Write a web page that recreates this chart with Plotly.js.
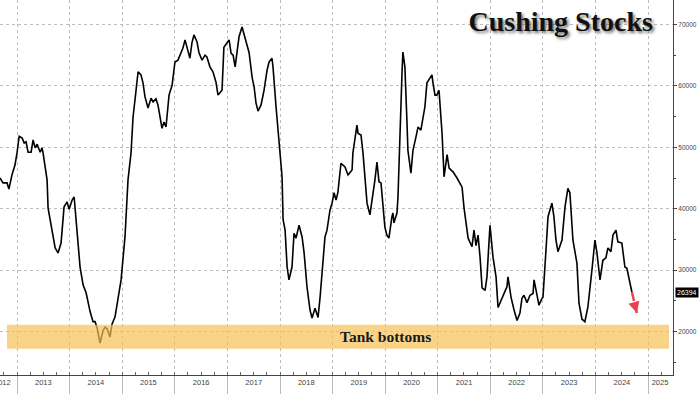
<!DOCTYPE html>
<html>
<head>
<meta charset="utf-8">
<script src="https://cdn.plot.ly/plotly-3.0.1.min.js"></script>
<style>html,body{margin:0;padding:0;background:#fff;}#chart{width:700px;height:394px;}</style>
</head>
<body>
<div id="chart"></div>
<script>
// Weekly Cushing crude stocks (thousand barrels)
const dates = [
"2012-09-04","2012-09-25","2012-10-23","2012-11-05","2012-11-26","2012-12-17",
"2013-01-01","2013-01-15","2013-02-05","2013-02-19","2013-03-04","2013-03-18","2013-04-08","2013-04-22","2013-05-06","2013-05-20","2013-06-10","2013-06-23","2013-06-30","2013-07-28","2013-08-04","2013-09-01","2013-09-22","2013-10-12","2013-11-02","2013-11-23","2013-12-14","2013-12-28",
"2014-01-18","2014-02-01","2014-02-14","2014-03-14","2014-04-04","2014-04-25","2014-05-23","2014-06-12","2014-06-26","2014-07-10","2014-07-31","2014-08-21","2014-09-04","2014-09-18","2014-10-08","2014-10-22","2014-11-12","2014-11-26","2014-12-24",
"2015-01-20","2015-02-10","2015-03-03","2015-03-17","2015-04-07","2015-04-21","2015-05-11","2015-05-25","2015-06-08","2015-06-29","2015-07-20","2015-08-03","2015-08-23","2015-09-06","2015-10-04","2015-10-18","2015-11-01","2015-11-22","2015-12-13",
"2016-01-02","2016-01-23","2016-02-06","2016-02-27","2016-03-12","2016-03-26","2016-04-15","2016-04-29","2016-05-13","2016-06-03","2016-06-17","2016-07-08","2016-07-29","2016-08-11","2016-09-01","2016-09-22","2016-10-13","2016-10-27","2016-11-10","2016-11-24","2016-12-07","2016-12-30",
"2017-01-12","2017-01-26","2017-02-09","2017-02-23","2017-03-09","2017-03-22","2017-04-12","2017-04-26","2017-05-17","2017-05-31","2017-06-21","2017-07-05","2017-07-18","2017-08-01","2017-08-22","2017-09-12","2017-10-03","2017-10-17","2017-11-06","2017-11-13","2017-12-04","2017-12-18",
"2018-01-01","2018-01-15","2018-01-22","2018-02-05","2018-02-19","2018-03-04","2018-03-25","2018-04-08","2018-04-22","2018-05-13","2018-06-03","2018-06-17","2018-07-07","2018-07-28","2018-08-11","2018-09-01","2018-09-22","2018-10-06","2018-11-09","2018-11-23","2018-12-14","2018-12-28",
"2019-01-11","2019-01-25","2019-02-07","2019-02-28","2019-03-14","2019-03-28","2019-04-18","2019-05-16","2019-05-22","2019-06-19","2019-06-26","2019-07-17","2019-07-31","2019-08-28","2019-09-17","2019-10-01","2019-10-22","2019-11-05","2019-11-19","2019-12-03","2019-12-17","2019-12-30",
"2020-01-13","2020-01-27","2020-02-17","2020-02-24","2020-03-02","2020-03-23","2020-03-30","2020-04-13","2020-04-27","2020-05-03","2020-05-17","2020-05-31","2020-06-07","2020-06-28","2020-07-12","2020-08-02","2020-08-16","2020-09-05","2020-09-19","2020-10-03","2020-10-17","2020-10-31","2020-11-21","2020-11-28","2020-12-12","2020-12-25",
"2021-01-09","2021-01-30","2021-02-13","2021-03-06","2021-03-20","2021-04-16","2021-05-14","2021-06-18","2021-07-02","2021-07-30","2021-08-26","2021-09-09","2021-09-23","2021-10-07","2021-10-21","2021-11-04","2021-11-25","2021-12-08","2021-12-29",
"2022-01-19","2022-02-09","2022-02-23","2022-03-22","2022-04-05","2022-04-26","2022-05-03","2022-05-24","2022-06-14","2022-07-05","2022-07-25","2022-08-08","2022-08-22","2022-09-12","2022-10-03","2022-10-24","2022-10-31","2022-11-20","2022-12-04","2022-12-25",
"2023-01-01","2023-01-22","2023-02-05","2023-03-04","2023-03-18","2023-04-01","2023-04-15","2023-05-13","2023-06-03","2023-06-23","2023-07-07","2023-07-28","2023-08-25","2023-09-08","2023-09-29","2023-10-19","2023-11-09","2023-12-07","2023-12-28",
"2024-01-11","2024-02-01","2024-02-21","2024-03-13","2024-03-27","2024-04-17","2024-05-01","2024-05-22","2024-06-04","2024-07-02","2024-07-23","2024-08-06","2024-08-27","2024-09-10"
];
const stocks = [
45000,44200,44200,43200,45500,47100,
49200,51800,51500,50700,50900,49200,49200,51200,49900,50500,49200,49900,49100,44700,40100,36500,33600,32800,34400,40300,41100,39900,
41400,41900,38200,30500,27600,26300,23200,21600,21600,20600,18100,20200,20700,20400,19100,21200,22400,24600,28400,
35400,44700,49100,54900,59300,62300,61800,60500,58200,56400,58000,57400,57900,56900,53100,54100,53300,58500,60100,
63900,64200,65000,66200,67500,66200,64500,67000,68300,67200,65400,64200,65000,64700,63100,62300,60600,58500,59000,59300,66300,67000,
67500,65300,65000,63100,65400,68000,69600,68300,66300,65400,61400,59800,57200,55900,56900,59300,62600,63900,64500,63100,56600,52300,
49100,45200,38200,36500,30500,28400,30500,36000,35200,37300,35400,32800,27300,23500,22200,23800,22300,25600,35400,36500,39800,40900,
42600,41400,42700,47400,47100,46800,45500,46300,49100,53600,52300,52000,49100,40900,39000,41100,44700,47600,44400,44200,40600,37000,
35700,35200,38700,39300,37700,39300,41900,53900,62100,65500,63100,54400,49500,45800,49500,51700,53300,52800,54400,56600,60500,61000,61800,60500,58500,58500,
59300,52300,45200,48800,46600,46000,45000,43500,40100,35200,33800,36500,34000,35700,32100,27100,26700,28900,37300,
32100,28900,23900,25400,26200,27300,28900,25600,23500,21800,23000,25400,25900,24700,25900,26200,28400,25900,24300,25400,
25600,33300,38700,40900,38700,34900,33000,34900,40300,43300,42600,34900,31100,24600,22000,21600,24000,30000,34900,
32800,28400,31600,32000,33600,33000,35700,36500,34600,34400,30500,30300,27900,26394
];
const yearLabels = ["2012","2013","2014","2015","2016","2017","2018","2019","2020","2021","2022","2023","2024","2025"];
const yearLabelDates = ["2012-09-20","2013-07-02","2014-07-02","2015-07-02","2016-07-02","2017-07-02","2018-07-02","2019-07-02","2020-07-02","2021-07-02","2022-07-02","2023-07-02","2024-07-02","2025-03-24"];
const yearBoundaries = ["2013-01-01","2014-01-01","2015-01-01","2016-01-01","2017-01-01","2018-01-01","2019-01-01","2020-01-01","2021-01-01","2022-01-01","2023-01-01","2024-01-01","2025-01-01"];
const lastValue = 26394;
const projection = {x: ["2024-09-10", "2024-10-14"], y: [26394, 23000]};
const tankBand = [17200, 21100];

const xRange = ["2012-09-04", "2025-06-22"];
const gridCol = "#bdbdbd";

const traces = [
  {x: dates, y: stocks, type: "scatter", mode: "lines",
   line: {color: "#000", width: 1.6}, hoverinfo: "skip", showlegend: false},
  // empty helper trace so the quarter-tick overlay axis is drawn
  {x: [xRange[0]], y: [null], xaxis: "x2", yaxis: "y", type: "scatter", mode: "lines",
   hoverinfo: "skip", showlegend: false}
];

const layout = {
  width: 700, height: 394,
  margin: {l: 0, r: 27, t: 0, b: 19, pad: 0},
  paper_bgcolor: "#fff", plot_bgcolor: "#fff",
  showlegend: false,
  title: {
    text: "<b>Cushing Stocks</b>",
    x: 0.801, xref: "container", xanchor: "center",
    y: 0.945, yref: "container", yanchor: "middle",
    font: {family: "Liberation Serif, Times New Roman, serif", size: 28, color: "#111",
           shadow: "2px 2px 3px rgba(0,0,0,0.55)"}
  },
  xaxis: {
    type: "date", range: xRange, autorange: false,
    tickmode: "array", tickvals: yearLabelDates, ticktext: yearLabels,
    ticks: "", showgrid: false, zeroline: false, ticklabeloverflow: "allow",
    showline: true, linecolor: "#444", linewidth: 1,
    tickfont: {family: "Liberation Sans, Arial, sans-serif", size: 7.5, color: "#444"},
    minor: {tickmode: "array", tickvals: yearBoundaries, ticks: "outside", ticklen: 19,
            tickcolor: "#bbb", tickwidth: 1, showgrid: true, gridcolor: gridCol, griddash: "dot", gridwidth: 1}
  },
  xaxis2: {
    type: "date", range: xRange, autorange: false, overlaying: "x", anchor: "y", side: "bottom",
    dtick: "M3", tick0: "2013-01-01", ticks: "inside", ticklen: 3, tickcolor: "#666",
    showticklabels: false, showgrid: false, zeroline: false, showline: false
  },
  yaxis: {
    side: "right", range: [12915, 73990], autorange: false,
    tickmode: "linear", tick0: 0, dtick: 10000,
    ticks: "outside", ticklen: 3, tickcolor: "#444",
    showgrid: true, gridcolor: gridCol, griddash: "dot", gridwidth: 1,
    zeroline: false, showline: true, linecolor: "#444", linewidth: 1,
    tickformat: "d",
    tickfont: {family: "Liberation Sans, Arial, sans-serif", size: 6.5, color: "#444"},
    minor: {dtick: 5000, ticks: "outside", ticklen: 2, tickcolor: "#444", showgrid: false}
  },
  shapes: [
    {type: "rect", xref: "paper", yref: "y", x0: 0.0104, x1: 0.994, y0: tankBand[0], y1: tankBand[1],
     fillcolor: "rgba(245,192,85,0.7)", line: {width: 0}, layer: "above"},
    {type: "line", xref: "x", yref: "y", x0: projection.x[0], y0: projection.y[0], x1: projection.x[1], y1: projection.y[1],
     line: {color: "#e8434f", width: 2.5, dash: "dash"}, layer: "above"}
  ],
  annotations: [
    {xref: "x", yref: "y", x: "2019-12-31", y: (tankBand[0] + tankBand[1]) / 2, text: "<b>Tank bottoms</b>",
     showarrow: false, font: {family: "Liberation Serif, Times New Roman, serif", size: 15.5, color: "#1a1a1a"}},
    {xref: "paper", yref: "y", x: 1, xanchor: "left", xshift: 2, y: lastValue, text: String(lastValue),
     showarrow: false, bgcolor: "#000", borderpad: 1,
     font: {family: "Liberation Sans, Arial, sans-serif", size: 7, color: "#fff"}},
    {xref: "x", yref: "y", x: projection.x[1], y: projection.y[1], text: "", showarrow: true,
     ax: -1.2, ay: -4.5, arrowhead: 2, arrowsize: 0.9, arrowwidth: 2.5, arrowcolor: "#e8434f", standoff: 0}
  ]
};

Plotly.newPlot("chart", traces, layout, {displayModeBar: false, staticPlot: true});
</script>
</body>
</html>
